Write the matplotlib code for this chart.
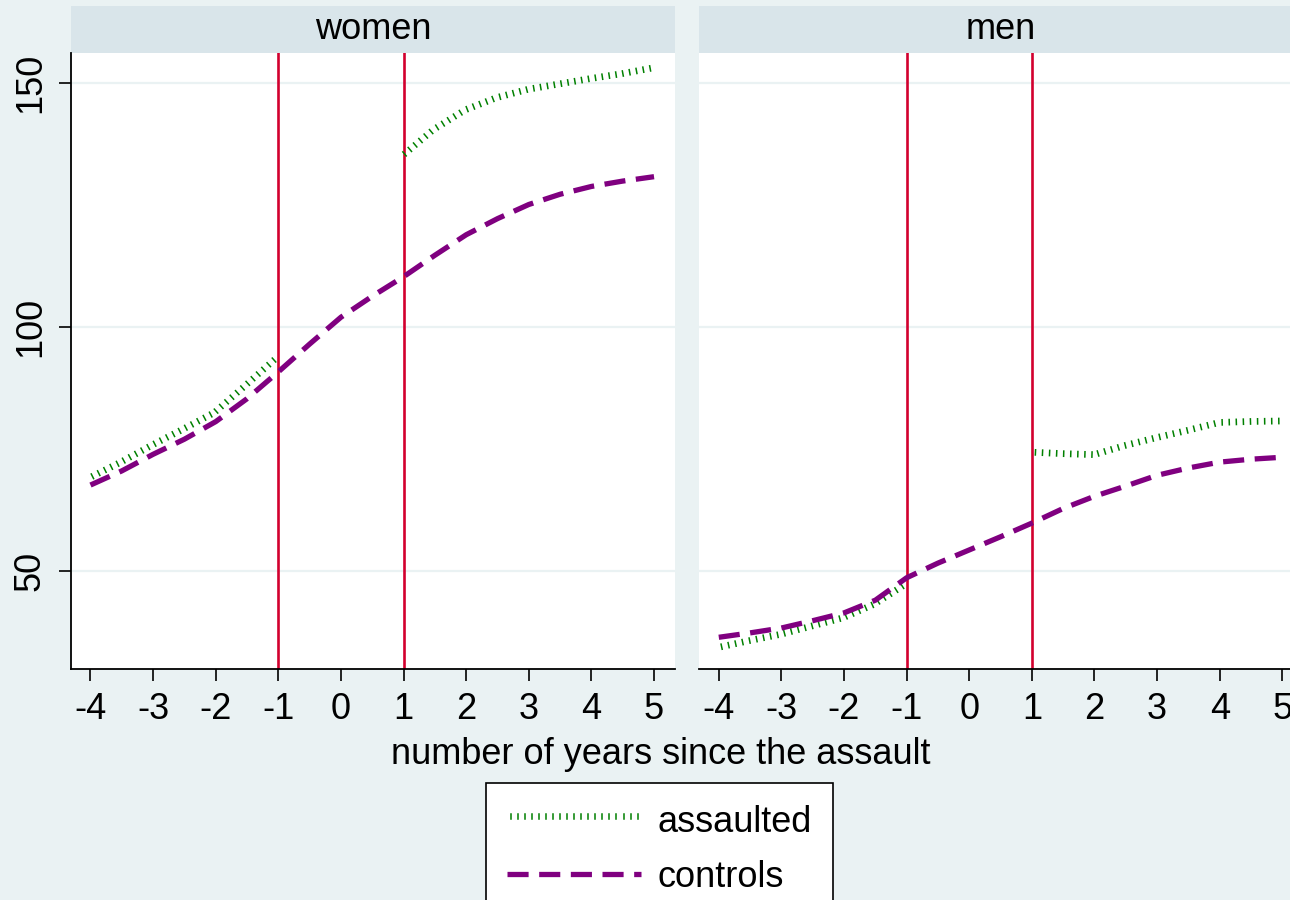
import matplotlib
matplotlib.use("Agg")
import matplotlib.pyplot as plt
import matplotlib.patheffects as pe
from matplotlib.patches import Rectangle
from matplotlib.lines import Line2D

plt.rcParams['font.family'] = ['Liberation Sans', 'DejaVu Sans']

# years relative to the assault
years = [-4, -3.5, -3, -2.5, -2, -1.5, -1, -0.5, 0, 0.5, 1, 1.5, 2, 2.5, 3, 3.5, 4, 4.5, 5]
years_pre = [-4, -3.5, -3, -2.5, -2, -1.5, -1]
years_post = [1, 1.5, 2, 2.5, 3, 3.5, 4, 4.5, 5]

women_controls = [67.6, 70.5, 73.9, 77.0, 80.6, 85.3, 90.8, 96.5, 102.0, 106.3,
                  110.3, 114.7, 118.9, 122.2, 125.1, 127.2, 128.8, 129.9, 130.8]
women_assaulted_pre = [68.6, 71.8, 75.3, 78.6, 82.0, 87.6, 93.3]
women_assaulted_post = [134.6, 140.0, 144.0, 146.5, 148.2, 149.3, 150.4, 151.4, 152.6]

men_controls = [36.4, 37.3, 38.3, 39.8, 41.4, 44.0, 48.6, 51.6, 54.3, 57.0,
                59.8, 62.8, 65.3, 67.4, 69.6, 71.1, 72.3, 72.9, 73.3]
men_assaulted_pre = [33.8, 35.2, 36.5, 38.2, 39.9, 42.7, 46.8]
men_assaulted_post = [73.8, 73.5, 73.3, 75.2, 76.8, 78.3, 79.9, 80.1, 80.2]

panels = ["women", "men"]
xticks = [-4, -3, -2, -1, 0, 1, 2, 3, 4, 5]
yticks = [50, 100, 150]
event_lines = [-1, 1]

BG = '#EAF2F3'
STRIP = '#D9E5EA'
GREEN = '#008000'
PURPLE = '#800080'
RED = '#D2002E'
FS = 26

ticked = [pe.TickedStroke(spacing=5, angle=90, length=0.75)]


def draw_panel(ax, title, controls, pre, post, first):
    """One facet: controls (dashed) and assaulted (ticked) lines."""
    ax.set_facecolor('white')
    for v in yticks:
        ax.axhline(v, color=BG, lw=1.6, zorder=0)
    for v in event_lines:
        ax.axvline(v, color=RED, lw=1.9, zorder=1)
    ax.plot(years_pre, pre, color=GREEN, lw=1.1, path_effects=ticked, zorder=2)
    ax.plot(years_post, post, color=GREEN, lw=1.1, path_effects=ticked, zorder=2)
    ax.plot(years, controls, color=PURPLE, lw=3.8, dashes=(4, 2), zorder=3)

    ax.set_xlim(-4.316, 5.335)
    ax.set_ylim(29.9, 156.15)
    ax.set_xticks(xticks)
    ax.set_xticklabels([str(t) for t in xticks], fontsize=FS)
    ax.tick_params(axis='x', length=8.5, width=1.2, pad=8, direction='out')

    for s in ['top', 'right']:
        ax.spines[s].set_visible(False)
    ax.spines['bottom'].set_linewidth(1.3)
    if first:
        ax.spines['left'].set_linewidth(1.3)
        ax.set_yticks(yticks)
        ax.set_yticklabels([str(t) for t in yticks], fontsize=FS, rotation=90, va='center')
        ax.tick_params(axis='y', length=8.5, width=1.2, pad=8, direction='out')
    else:
        ax.spines['left'].set_visible(False)
        ax.set_yticks([])

    # title strip above the plot region
    ax.add_patch(Rectangle((0, 1), 1, 0.076, transform=ax.transAxes, facecolor=STRIP,
                           edgecolor='none', clip_on=False))
    ax.text(0.5, 1.038, title, transform=ax.transAxes, ha='center', va='center', fontsize=FS)


fig = plt.figure(figsize=(12.9, 9), dpi=100, facecolor=BG)
ax1 = fig.add_axes([70.7 / 1290, 231 / 900, 604.3 / 1290, 616 / 900])
ax2 = fig.add_axes([699 / 1290, 231 / 900, 604.3 / 1290, 616 / 900])

draw_panel(ax1, panels[0], women_controls, women_assaulted_pre, women_assaulted_post, True)
draw_panel(ax2, panels[1], men_controls, men_assaulted_pre, men_assaulted_post, False)

fig.text(661 / 1290, 1 - 754 / 900, "number of years since the assault",
         ha='center', va='center', fontsize=FS)

handles = [Line2D([], [], color=GREEN, lw=1.1, path_effects=ticked),
           Line2D([], [], color=PURPLE, lw=3.8, dashes=(4, 2))]
leg = fig.legend(handles, ["assaulted", "controls"], loc='upper center',
                 bbox_to_anchor=(659.5 / 1290, 1 - 783 / 900), fontsize=FS,
                 frameon=True, fancybox=False, framealpha=1, borderaxespad=0,
                 handlelength=3.7, handletextpad=0.45,
                 labelspacing=0.55, borderpad=0.6)
leg.get_frame().set_edgecolor('black')
leg.get_frame().set_linewidth(1.2)
leg.get_frame().set_facecolor('white')

fig.savefig("out.png", dpi=100, facecolor=BG)
